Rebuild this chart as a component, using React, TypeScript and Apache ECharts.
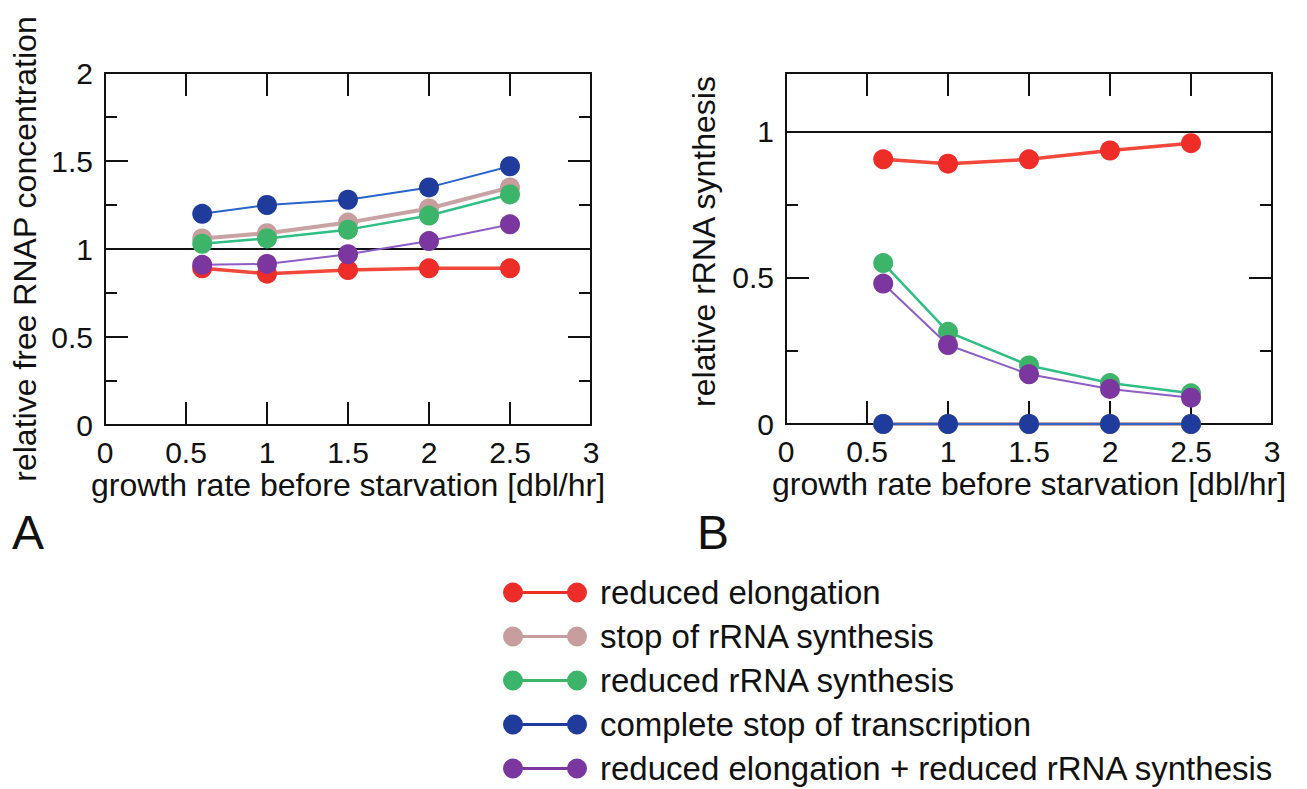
import React, { useEffect, useRef } from "react";
import * as echarts from "echarts";

// ---- data ----
const growthRates = [0.6, 1.0, 1.5, 2.0, 2.5];

const seriesNames = [
  "reduced elongation",
  "stop of rRNA synthesis",
  "reduced rRNA synthesis",
  "complete stop of transcription",
  "reduced elongation + reduced rRNA synthesis",
];

// Panel A: relative free RNAP concentration
const redA = [0.89, 0.86, 0.88, 0.89, 0.89];
const pinkA = [1.06, 1.09, 1.15, 1.23, 1.35];
const greenA = [1.03, 1.06, 1.11, 1.19, 1.31];
const blueA = [1.2, 1.25, 1.28, 1.35, 1.47];
const purpleA = [0.91, 0.915, 0.97, 1.045, 1.14];

// Panel B: relative rRNA synthesis
const redB = [0.905, 0.89, 0.905, 0.935, 0.96];
const pinkB = [0, 0, 0, 0, 0];
const greenB = [0.55, 0.315, 0.2, 0.14, 0.105];
const blueB = [0, 0, 0, 0, 0];
const purpleB = [0.48, 0.27, 0.17, 0.12, 0.09];

const markerColors = ["#ee2c28", "#c79d9d", "#3cb56b", "#1f3c9c", "#7b36a0"];
const lineColors = ["#f2473a", "#c9a3a3", "#2fbf85", "#2763c9", "#8d5cc4"];
const lineWidths = [3.5, 4, 2.5, 2, 2];

const FONT = "'Liberation Sans', Arial, Helvetica, sans-serif";
const INK = "#111";

const legendIcon =
  "path://M10 0A10 10 0 1 1 10 20A10 10 0 1 1 10 0ZM74 0A10 10 0 1 1 74 20A10 10 0 1 1 74 0ZM10 8.5L74 8.5L74 11.5L10 11.5Z";

export default function App() {
  const ref = useRef<HTMLDivElement>(null);

  useEffect(() => {
    if (!ref.current) return;
    const chart = echarts.init(ref.current, null, { renderer: "svg" });

    const axisLine = { show: true, onZero: false, lineStyle: { color: INK, width: 2 } };
    const tickMajor = { show: true, inside: true, length: 23, lineStyle: { color: INK, width: 2 } };
    const tickMinor = { show: true, splitNumber: 2, length: 12, lineStyle: { color: INK, width: 2 } };
    const labelStyle = { fontSize: 30, fontFamily: FONT, color: INK, margin: 12 };

    const xBase = (gridIndex: number, position: string, showLabel: boolean, name?: string) => ({
      type: "value",
      gridIndex,
      position,
      min: 0,
      max: 3,
      interval: 0.5,
      axisLine,
      axisTick: tickMajor,
      splitLine: { show: false },
      axisLabel: { ...labelStyle, show: showLabel },
      name: name || "",
      nameLocation: "middle",
      nameGap: 44,
      nameTextStyle: { fontSize: 32, fontFamily: FONT, color: INK },
    });

    const yBase = (
      gridIndex: number,
      position: string,
      showLabel: boolean,
      max: number,
      name?: string,
      nameGap?: number,
      padding?: number[]
    ) => ({
      type: "value",
      gridIndex,
      position,
      min: 0,
      max,
      interval: 0.5,
      axisLine,
      axisTick: tickMajor,
      minorTick: tickMinor,
      splitLine: { show: false },
      axisLabel: { ...labelStyle, show: showLabel, showMaxLabel: max === 2 },
      name: name || "",
      nameLocation: "middle",
      nameGap: nameGap || 64,
      nameTextStyle: { fontSize: 32, fontFamily: FONT, color: INK, padding: padding || 0 },
    });

    const toPoints = (vals: number[]) => growthRates.map((x, i) => [x, vals[i]]);
    const panelA = [redA, pinkA, greenA, blueA, purpleA];
    const panelB = [redB, pinkB, greenB, blueB, purpleB];

    const refLine = {
      silent: true,
      symbol: ["none", "none"],
      label: { show: false },
      lineStyle: { color: INK, width: 2, type: "solid" },
      data: [{ yAxis: 1 }],
    };

    const makeSeries = (panel: number[][], xi: number, yi: number) =>
      panel.map((vals, i) => ({
        name: seriesNames[i],
        type: "line",
        xAxisIndex: xi,
        yAxisIndex: yi,
        data: toPoints(vals),
        symbol: "circle",
        symbolSize: 20,
        clip: false,
        itemStyle: { color: markerColors[i] },
        lineStyle: { color: lineColors[i], width: lineWidths[i] },
        z: 3 + i,
        ...(i === 0 ? { markLine: refLine } : {}),
      }));

    chart.setOption({
      animation: false,
      backgroundColor: "#ffffff",
      grid: [
        { left: 105, top: 73, width: 486, height: 352 },
        { left: 786, top: 73, width: 486, height: 351 },
      ],
      xAxis: [
        xBase(0, "bottom", true, "growth rate before starvation [dbl/hr]"),
        xBase(0, "top", false),
        xBase(1, "bottom", true, "growth rate before starvation [dbl/hr]"),
        xBase(1, "top", false),
      ],
      yAxis: [
        yBase(0, "left", true, 2, "relative free RNAP concentration", 64),
        yBase(0, "right", false, 2),
        yBase(1, "left", true, 1.2, "relative rRNA synthesis", 66, [0, 0, 0, 14]),
        yBase(1, "right", false, 1.2),
      ],
      legend: {
        orient: "vertical",
        left: 498,
        top: 571,
        height: 260,
        itemWidth: 84,
        itemHeight: 20,
        itemGap: 11,
        icon: legendIcon,
        data: seriesNames,
        selectedMode: false,
        textStyle: { fontSize: 33, fontFamily: FONT, color: INK, padding: [0, 0, 0, 8] },
      },
      graphic: [
        {
          type: "text",
          left: 12,
          top: 508,
          style: { text: "A", fontSize: 48, fontFamily: FONT, fill: INK },
        },
        {
          type: "text",
          left: 697,
          top: 508,
          style: { text: "B", fontSize: 48, fontFamily: FONT, fill: INK },
        },
      ],
      series: [...makeSeries(panelA, 0, 0), ...makeSeries(panelB, 2, 2)],
    });

    return () => chart.dispose();
  }, []);

  return (
    <div
      ref={ref}
      style={{ position: "absolute", left: 0, top: 0, width: 1307, height: 789, background: "#fff" }}
    />
  );
}
